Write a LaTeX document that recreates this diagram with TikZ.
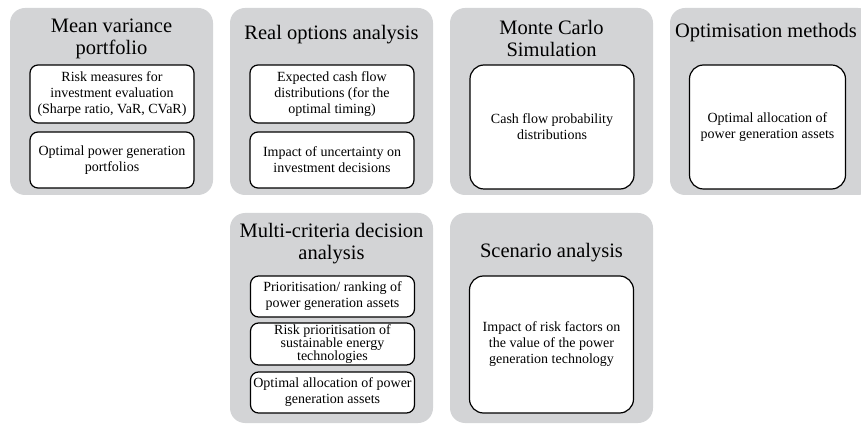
\documentclass[tikz,border=0pt]{standalone}
\usepackage{fontspec}
\setmainfont{Liberation Serif}
\usetikzlibrary{positioning}
\definecolor{panelgray}{RGB}{211,212,214}

\begin{document}
\begin{tikzpicture}[x=1pt,y=1pt]
                        \tikzstyle{every node}=[inner sep=0,align=center]
                        \tikzstyle{panel}=[fill=panelgray,rounded corners=15,minimum width=203,minimum height=187]
                        \tikzstyle{item}=[draw,fill=white,rounded corners=8,line width=1.2,minimum width=164,font=\fontsize{14}{16}\selectfont]
                        \tikzstyle{tall}=[item,rounded corners=14]
                        \tikzstyle{head}=[font=\fontsize{20.5}{22}\selectfont]
                        \clip (0,0) rectangle (861,423);
                        {

                            % top row
                            \node[panel] (p1) at (111.5,321.5) {};
                            \node[panel,node distance=220] (p2) [right of=p1] {};
                            \node[panel,node distance=220] (p3) [right of=p2] {};
                            \node[panel,node distance=220] (p4) [right of=p3] {};

                            % bottom row
                            \node[panel,minimum height=210,node distance=216.5] (p5) [below of=p2] {};
                            \node[panel,minimum height=210,node distance=220] (p6) [right of=p5] {};

                            \node[head] (h1) at (111.5,384) {Mean variance\\portfolio};
                            \node[head] (h2) at (331.5,388) {Real options analysis};
                            \node[head] (h3) at (551.5,385) {Monte Carlo\\Simulation};
                            \node[head] (h4) at (766,390) {Optimisation methods};
                            \node[head] (h5) at (331.5,179.5) {Multi-criteria decision\\analysis};
                            \node[head] (h6) at (551.5,170) {Scenario analysis};

                            \node[item,minimum height=58] (i11) at (112,329) {Risk measures for\\investment evaluation\\(Sharpe ratio, VaR, CVaR)};
                            \node[item,minimum height=56] (i12) at (112,263) {Optimal power generation\\portfolios};
                            \node[item,minimum height=58] (i21) at (332,329) {Expected cash flow\\distributions (for the\\optimal timing)};
                            \node[item,minimum height=56] (i22) at (332,263) {Impact of uncertainty on\\investment decisions};
                            \node[tall,minimum height=124] (i31) at (552,296) {Cash flow probability\\distributions};
                            \node[tall,minimum height=124,minimum width=156] (i41) at (767.5,296) {Optimal allocation of\\power generation assets};

                            \node[item,minimum height=41] (i51) at (332.5,126.5) {Prioritisation/ ranking of\\power generation assets};
                            \node[item,minimum height=42,font=\fontsize{14}{13}\selectfont] (i52) at (332.5,79) {Risk prioritisation of\\sustainable energy\\technologies};
                            \node[item,minimum height=41] (i53) at (332.5,30.5) {Optimal allocation of power\\generation assets};
                            \node[tall,minimum height=137] (i61) at (551.5,78.5) {Impact of risk factors on\\the value of the power\\generation technology};
                        }
                    \end{tikzpicture}
\end{document}
